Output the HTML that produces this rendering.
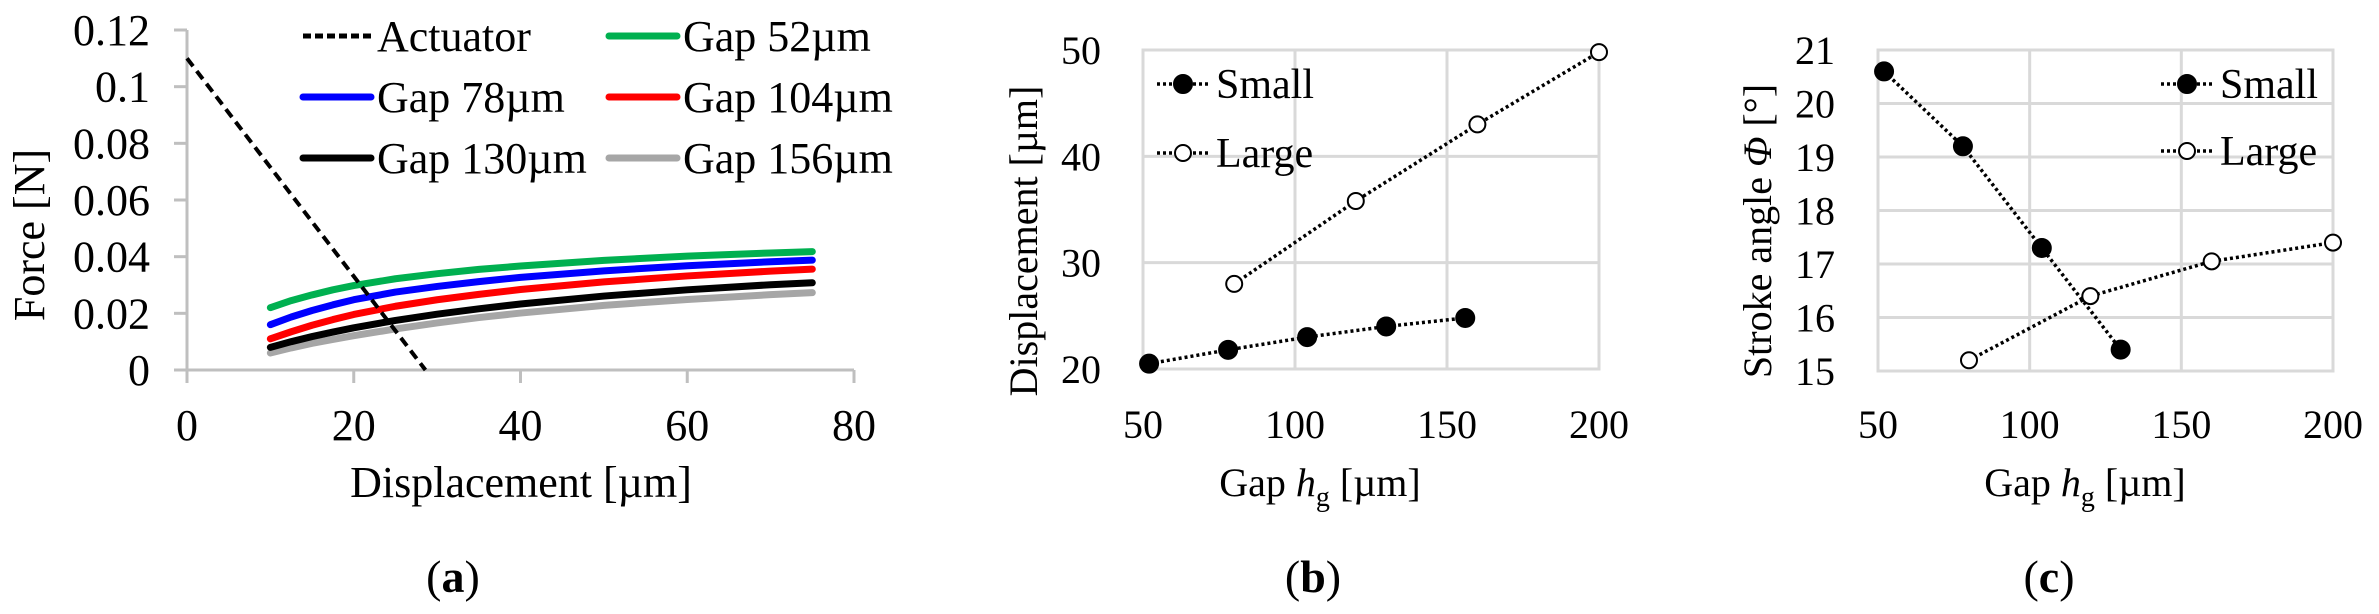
<!DOCTYPE html>
<html><head><meta charset="utf-8"><style>
html,body{margin:0;padding:0;background:#fff;}
svg{display:block;font-family:"Liberation Serif",serif;}
</style></head><body>
<svg id="fig" width="2379" height="614" viewBox="0 0 2379 614" xmlns="http://www.w3.org/2000/svg"></svg>
<script>
// Panel (a) data
const aXTicks = [0, 20, 40, 60, 80];
const aYTicks = [0, 0.02, 0.04, 0.06, 0.08, 0.1, 0.12];
const aYTickLabels = ["0", "0.02", "0.04", "0.06", "0.08", "0.1", "0.12"];
const actuatorX = [0, 28.6];
const actuatorY = [0.11, 0];
const gapX = [10, 12.5, 15, 17.5, 20, 25, 30, 35, 40, 50, 60, 70, 75];
const gap52 = [0.022, 0.0245, 0.0265, 0.0283, 0.0298, 0.0322, 0.0340, 0.0355, 0.0367, 0.0387, 0.0402, 0.0413, 0.0418];
const gap78 = [0.016, 0.0187, 0.0210, 0.0230, 0.0248, 0.0275, 0.0295, 0.0312, 0.0327, 0.0350, 0.0368, 0.0382, 0.0388];
const gap104 = [0.011, 0.0135, 0.0158, 0.0178, 0.0196, 0.0225, 0.0248, 0.0267, 0.0284, 0.0311, 0.0332, 0.0349, 0.0356];
const gap130 = [0.008, 0.0100, 0.0118, 0.0134, 0.0149, 0.0175, 0.0197, 0.0216, 0.0233, 0.0261, 0.0283, 0.0301, 0.0308];
const gap156 = [0.006, 0.0078, 0.0094, 0.0108, 0.0121, 0.0145, 0.0166, 0.0185, 0.0201, 0.0228, 0.0249, 0.0266, 0.0273];
// Panel (b) data
const bXTicks = [50, 100, 150, 200];
const bYTicks = [20, 30, 40, 50];
const bSmallX = [52, 78, 104, 130, 156];
const bSmallY = [20.5, 21.8, 23.0, 24.0, 24.8];
const bLargeX = [80, 120, 160, 200];
const bLargeY = [28.0, 35.8, 43.0, 49.8];
// Panel (c) data
const cXTicks = [50, 100, 150, 200];
const cYTicks = [15, 16, 17, 18, 19, 20, 21];
const cSmallX = [52, 78, 104, 130];
const cSmallY = [20.6, 19.2, 17.3, 15.4];
const cLargeX = [80, 120, 160, 200];
const cLargeY = [15.2, 16.4, 17.05, 17.4];

const NS = "http://www.w3.org/2000/svg";
const svg = document.getElementById("fig");
function mk(tag, attrs, parent, text) {
  const e = document.createElementNS(NS, tag);
  for (const k in attrs) e.setAttribute(k, attrs[k]);
  if (text !== undefined) e.textContent = text;
  (parent || svg).appendChild(e);
  return e;
}
function lin(d0, d1, r0, r1) { return v => r0 + (v - d0) / (d1 - d0) * (r1 - r0); }
const FS = 40;
const FSA = 44;

// ---------- Panel A ----------
const ga = mk("g", {});


const ax = lin(0, 80, 187, 854), ay = lin(0, 0.12, 370, 30);
let e = mk("line", {x1: ax(0), y1: ay(0.12), x2: ax(0), y2: ay(0) + 13, stroke: "#bfbfbf", "stroke-width": 3}, ga);
 
e = mk("line", {x1: ax(0) - 13, y1: ay(0), x2: ax(80), y2: ay(0), stroke: "#bfbfbf", "stroke-width": 3}, ga);
 
aYTicks.forEach((t, i) => {
  const tk = mk("line", {x1: ax(0) - 13, y1: ay(t), x2: ax(0), y2: ay(t), stroke: "#bfbfbf", "stroke-width": 3}, ga);
   
  const lb = mk("text", {x: 150, y: ay(t) + 15, "font-size": FSA, "text-anchor": "end"}, ga, aYTickLabels[i]);
   
});
aXTicks.forEach(t => {
  const tk = mk("line", {x1: ax(t), y1: ay(0), x2: ax(t), y2: ay(0) + 13, stroke: "#bfbfbf", "stroke-width": 3}, ga);
   
  const lb = mk("text", {x: ax(t), y: 440, "font-size": FSA, "text-anchor": "middle"}, ga, String(t));
   
});
e = mk("text", {x: 0, y: 0, "font-size": FSA, "text-anchor": "middle", transform: "translate(44,235) rotate(-90)"}, ga, "Force [N]");
 
e = mk("text", {x: 521, y: 497, "font-size": FSA, "text-anchor": "middle"}, ga, "Displacement [µm]");
 
e = mk("text", {x: 453, y: 592, "font-size": 46, "text-anchor": "middle"}, ga);
e.innerHTML = '(<tspan font-weight="bold">a</tspan>)';
 
const gapSeries = [[gap156, "#a6a6a6", "gap-156"], [gap130, "#000000", "gap-130"], [gap104, "#ff0000", "gap-104"], [gap78, "#0000ff", "gap-78"], [gap52, "#00b050", "gap-52"]];
gapSeries.forEach(s => {
  const pts = gapX.map((x, i) => ax(x) + "," + ay(s[0][i])).join(" ");
  const pl = mk("polyline", {points: pts, fill: "none", stroke: s[1], "stroke-width": 7, "stroke-linejoin": "round", "stroke-linecap": "round"}, ga);
   
});
e = mk("line", {x1: ax(actuatorX[0]), y1: ay(actuatorY[0]), x2: ax(actuatorX[1]), y2: ay(actuatorY[1]), stroke: "#000", "stroke-width": 4, "stroke-dasharray": "10,6"}, ga);
 
const legA = [["Actuator", "#000", 303, 36, true], ["Gap 52µm", "#00b050", 609, 36], ["Gap 78µm", "#0000ff", 303, 97], ["Gap 104µm", "#ff0000", 609, 97], ["Gap 130µm", "#000", 303, 158], ["Gap 156µm", "#a6a6a6", 609, 158]];
legA.forEach(l => {
  const g = mk("g", {}, ga);
   
  mk("line", {x1: l[2], y1: l[3], x2: l[2] + 68, y2: l[3], stroke: l[1], "stroke-width": l[4] ? 5 : 7, "stroke-dasharray": l[4] ? "8,4" : "none", "stroke-linecap": l[4] ? "butt" : "round"}, g);
  mk("text", {x: l[2] + 74, y: l[3] + 15, "font-size": FSA}, g, l[0]);
});

function scatterPanel(name, X0, X1, Y0, Y1, xT, yT, xs, yminmax, sets, ylabelRight, yTitle, yTitleX, yTitleY, xTitleX, label, labelX, legend) {
  const g = mk("g", {});
  
  
  const sx = lin(xs[0], xs[1], X0, X1), sy = lin(yminmax[0], yminmax[1], Y0, Y1);
  xT.forEach(t => {
    const gl = mk("line", {x1: sx(t), y1: Y0, x2: sx(t), y2: Y1, stroke: "#d9d9d9", "stroke-width": 3}, g);
     
    const lb = mk("text", {x: sx(t), y: 438, "font-size": FS, "text-anchor": "middle"}, g, String(t));
     
  });
  yT.forEach(t => {
    const gl = mk("line", {x1: X0, y1: sy(t), x2: X1, y2: sy(t), stroke: "#d9d9d9", "stroke-width": 3}, g);
     
    const lb = mk("text", {x: ylabelRight, y: sy(t) + 14, "font-size": FS, "text-anchor": "end"}, g, String(t));
     
  });
  const fr = mk("rect", {x: X0, y: Y1, width: X1 - X0, height: Y0 - Y1, fill: "none", stroke: "#d9d9d9", "stroke-width": 3}, g);
   
  sets.forEach(s => {
    const pts = s.x.map((x, i) => sx(x) + "," + sy(s.y[i])).join(" ");
    const pl = mk("polyline", {points: pts, fill: "none", stroke: "#000", "stroke-width": 3.5, "stroke-dasharray": "3,3"}, g);
     
    s.x.forEach((x, i) => {
      const c = mk("ellipse", {cx: sx(x), cy: sy(s.y[i]), rx: s.filled ? 9 : 8, ry: s.filled ? 9 : 8, fill: s.filled ? "#000" : "#fff", stroke: "#000", "stroke-width": 2}, g);
       
    });
  });
  const yt = mk("text", {x: 0, y: 0, "font-size": FS, "text-anchor": "middle", transform: "translate(" + yTitleX + "," + yTitleY + ") rotate(-90)"}, g);
  yt.innerHTML = yTitle;
   
  const xt = mk("text", {x: xTitleX, y: 496, "font-size": FS, "text-anchor": "middle"}, g);
  xt.innerHTML = 'Gap <tspan font-style="italic">h</tspan><tspan font-size="28" dy="10">g</tspan><tspan dy="-10"> [µm]</tspan>';
   
  const pl = mk("text", {x: labelX, y: 592, "font-size": 46, "text-anchor": "middle"}, g);
  pl.innerHTML = '(<tspan font-weight="bold">' + label + '</tspan>)';
   
  legend.forEach(l => {
    const lg = mk("g", {}, g);
     
    mk("line", {x1: l.mx - 26, y1: l.y, x2: l.mx + 26, y2: l.y, stroke: "#000", "stroke-width": 3.5, "stroke-dasharray": "3,3"}, lg);
    mk("ellipse", {cx: l.mx, cy: l.y, rx: l.filled ? 9 : 8, ry: l.filled ? 9 : 8, fill: l.filled ? "#000" : "#fff", stroke: "#000", "stroke-width": 2}, lg);
    mk("text", {x: l.mx + 33, y: l.y + 14, "font-size": 42}, lg, l.t);
  });
}

scatterPanel("panel-b-displacement-chart", 1143, 1599, 369, 50, bXTicks, bYTicks, [50, 200], [20, 50],
  [{name: "small", x: bSmallX, y: bSmallY, filled: true}, {name: "large", x: bLargeX, y: bLargeY, filled: false}],
  1101, "Displacement [µm]", 1037, 241, 1320, "b", 1313,
  [{t: "Small", mx: 1183, y: 84, filled: true}, {t: "Large", mx: 1183, y: 153, filled: false}]);

scatterPanel("panel-c-stroke-angle-chart", 1878, 2333, 371, 50, cXTicks, cYTicks, [50, 200], [15, 21],
  [{name: "small", x: cSmallX, y: cSmallY, filled: true}, {name: "large", x: cLargeX, y: cLargeY, filled: false}],
  1835, 'Stroke angle <tspan font-style="italic">Φ</tspan> [°]', 1771, 231, 2085, "c", 2049,
  [{t: "Small", mx: 2187, y: 84, filled: true}, {t: "Large", mx: 2187, y: 151, filled: false}]);
</script>
</body></html>
